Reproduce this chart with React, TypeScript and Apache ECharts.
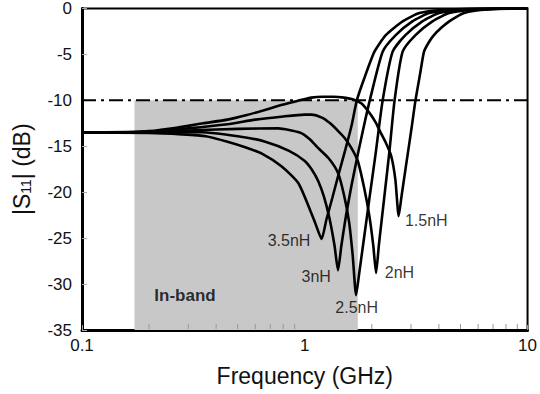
import React, { useEffect, useRef } from "react";
import * as echarts from "echarts";

// ---- data (frequency in GHz, |S11| in dB) ----
const f15 = [0.1, 0.15, 0.2, 0.27, 0.35, 0.45, 0.55, 0.65, 0.75, 0.85, 0.95, 1.07, 1.2, 1.35, 1.5, 1.65, 1.8, 1.97, 2.08, 2.18, 2.3, 2.44, 2.55, 2.64, 2.72, 2.8, 2.9, 3.02, 3.14, 3.3, 3.43, 3.6, 3.8, 4.1, 4.45, 4.8, 5.19, 5.8, 6.6, 8, 10];
const s15 = [-13.5, -13.5, -13.35, -12.95, -12.5, -12.1, -11.6, -11.1, -10.65, -10.3, -10.0, -9.7, -9.6, -9.6, -9.7, -9.9, -10.35, -11.5, -12.4, -13.4, -14.5, -16.0, -18.6, -22.6, -20.4, -18.3, -15.8, -12.9, -10.0, -7.0, -4.7, -3.7, -2.9, -2.1, -1.4, -0.9, -0.5, -0.25, -0.1, 0, 0];

const f20 = [0.1, 0.2, 0.3, 0.45, 0.6, 0.8, 1.0, 1.07, 1.2, 1.3, 1.42, 1.51, 1.62, 1.73, 1.85, 1.95, 2.03, 2.09, 2.15, 2.22, 2.3, 2.4, 2.53, 2.75, 3.14, 3.74, 4.45, 5.5, 7, 10];
const s20 = [-13.5, -13.4, -13.05, -12.6, -12.1, -11.75, -11.55, -11.55, -11.9, -12.5, -13.4, -14.1, -15.2, -16.6, -19.6, -22.6, -25.8, -28.8, -25.8, -22.8, -19.5, -15.5, -10.0, -4.7, -2.9, -1.4, -0.5, -0.15, -0.04, 0];

const f25 = [0.1, 0.2, 0.32, 0.5, 0.76, 0.95, 1.05, 1.15, 1.28, 1.41, 1.5, 1.58, 1.64, 1.7, 1.76, 1.84, 1.95, 2.08, 2.237, 2.48, 2.83, 3.37, 4.01, 5, 6.5, 10];
const s25 = [-13.5, -13.45, -13.25, -13.1, -13.05, -13.5, -14.2, -15.2, -16.3, -17.9, -20.3, -23.2, -26.8, -31.2, -28.6, -25.2, -20.7, -15.8, -10.0, -4.7, -2.9, -1.4, -0.5, -0.15, -0.04, 0];

const f30 = [0.1, 0.2, 0.32, 0.5, 0.665, 0.85, 1.0, 1.08, 1.15, 1.22, 1.29, 1.36, 1.41, 1.46, 1.53, 1.62, 1.74, 1.85, 1.958, 2.237, 2.56, 3.04, 3.62, 4.5, 6, 10];
const s30 = [-13.5, -13.5, -13.45, -13.9, -14.5, -15.5, -16.6, -17.6, -18.8, -20.5, -22.8, -25.8, -28.5, -25.8, -22.6, -19.3, -15.6, -12.6, -10.0, -4.7, -2.9, -1.4, -0.5, -0.15, -0.04, 0];

const f35 = [0.1, 0.2, 0.28, 0.36, 0.45, 0.54, 0.642, 0.788, 0.935, 1.055, 1.12, 1.19, 1.25, 1.33, 1.42, 1.52, 1.62, 1.713, 1.85, 2.055, 2.31, 2.75, 3.27, 4.2, 5.5, 10];
const s35 = [-13.5, -13.55, -13.7, -13.9, -14.5, -15.1, -15.8, -17.2, -19.0, -21.9, -23.5, -25.1, -23.0, -20.6, -18.0, -15.4, -12.8, -10.0, -7.6, -4.7, -2.9, -1.4, -0.5, -0.15, -0.04, 0];

const curveNames = ["1.5nH", "2nH", "2.5nH", "3nH", "3.5nH"];
const curveFreqs = [f15, f20, f25, f30, f35];
const curveDbs = [s15, s20, s25, s30, s35];

// curve labels (placed in data coordinates)
const labelTexts = ["1.5nH", "2nH", "2.5nH", "3nH", "3.5nH"];
const labelFreqs = [3.51, 2.66, 1.71, 1.125, 0.85];
const labelDbs = [-23.1, -28.7, -32.6, -29.2, -25.25];

// in-band region
const bandStart = 0.172;
const bandEnd = 1.73;
const bandTop = -10;
const bandText = "In-band";
const bandTextPos = [0.29, -31.2];

// reference line
const refLevel = -10;

// axis
const xMin = 0.1;
const xMax = 10;
const yMin = -35;
const yMax = 0;
const yStep = 5;
const minorTicks = [0.2, 0.3, 0.4, 0.5, 0.6, 0.7, 0.8, 0.9, 2, 3, 4, 5, 6, 7, 8, 9];

const FONT = "Liberation Sans, Arial, Helvetica, sans-serif";

export default function App() {
  const ref = useRef<HTMLDivElement>(null);

  useEffect(() => {
    if (!ref.current) return;
    const chart = echarts.init(ref.current, undefined, { renderer: "svg" });

    const curveSeries = curveNames.map((name, i) => ({
      name,
      type: "line",
      data: curveFreqs[i].map((f, j) => [f, curveDbs[i][j]]),
      showSymbol: false,
      symbol: "none",
      smooth: 0.2,
      lineStyle: { color: "#000", width: 2.6 },
      z: 3,
    }));

    const option: any = {
      animation: false,
      backgroundColor: "#fff",
      textStyle: { fontFamily: FONT },
      grid: {
        left: 82,
        right: 9,
        top: 7,
        bottom: 64,
        show: true,
        borderColor: "#000",
        borderWidth: 2,
        backgroundColor: "transparent",
      },
      xAxis: {
        type: "log",
        logBase: 10,
        min: xMin,
        max: xMax,
        name: "Frequency (GHz)",
        nameLocation: "middle",
        nameGap: 34,
        nameTextStyle: { fontSize: 23, color: "#111", fontFamily: FONT },
        axisLine: { show: true, onZero: false, lineStyle: { color: "#000", width: 3 } },
        axisTick: { show: true, inside: true, length: 5, lineStyle: { color: "#999", width: 1 } },
        axisLabel: {
          fontSize: 17,
          color: "#111",
          margin: 7,
          fontFamily: FONT,
          formatter: (v: number) => String(+Number(v).toPrecision(3)),
        },
        splitLine: { show: false },
        minorTick: { show: false },
      },
      yAxis: {
        type: "value",
        min: yMin,
        max: yMax,
        interval: yStep,
        name: "|S{sub|11}| (dB)",
        nameLocation: "middle",
        nameGap: 49,
        nameTextStyle: {
          fontSize: 23,
          color: "#111",
          fontFamily: FONT,
          rich: {
            sub: { fontSize: 14, fontFamily: FONT, color: "#111", verticalAlign: "bottom", lineHeight: 23, padding: [6, 0, 0, 0] },
          },
        },
        axisLine: { show: true, onZero: false, lineStyle: { color: "#000", width: 3 } },
        axisTick: { show: true, inside: true, length: 5, lineStyle: { color: "#aaa", width: 1 } },
        axisLabel: { fontSize: 17, color: "#111", margin: 10, fontFamily: FONT },
        splitLine: { show: false },
      },
      series: [
        {
          name: "band",
          type: "line",
          data: [],
          z: 1,
          markArea: {
            silent: true,
            itemStyle: { color: "#c8c8c8" },
            data: [[{ coord: [bandStart, bandTop] }, { coord: [bandEnd, yMin] }]],
          },
        },
        {
          name: "minorTicks",
          type: "custom",
          z: 2,
          silent: true,
          data: minorTicks.map((f) => [f, yMin]),
          renderItem: (params: any, api: any) => {
            const p = api.coord([api.value(0), api.value(1)]);
            return {
              type: "line",
              shape: { x1: p[0], y1: p[1] - 1, x2: p[0], y2: p[1] - 6 },
              style: { stroke: "#999", lineWidth: 1 },
            };
          },
        },
        ...curveSeries,
        {
          name: "ref",
          type: "line",
          data: [
            [xMin, refLevel],
            [xMax, refLevel],
          ],
          showSymbol: false,
          symbol: "none",
          lineStyle: { color: "#000", width: 2, type: [14, 5, 3, 5] },
          z: 4,
        },
        {
          name: "labels",
          type: "scatter",
          symbolSize: 0,
          z: 5,
          silent: true,
          data: labelTexts.map((t, i) => ({ value: [labelFreqs[i], labelDbs[i]], name: t })),
          label: {
            show: true,
            position: "inside",
            formatter: (p: any) => p.name,
            fontSize: 16,
            color: "#000",
            fontFamily: FONT,
          },
        },
        {
          name: "bandLabel",
          type: "scatter",
          symbolSize: 0,
          z: 5,
          silent: true,
          data: [{ value: bandTextPos, name: bandText }],
          label: {
            show: true,
            position: "inside",
            formatter: (p: any) => p.name,
            fontSize: 17,
            fontWeight: "bold",
            color: "#000",
            fontFamily: FONT,
          },
        },
      ],
    };

    chart.setOption(option);
    return () => chart.dispose();
  }, []);

  return (
    <div
      ref={ref}
      style={{ position: "fixed", left: 0, top: 0, width: 540, height: 394 }}
    />
  );
}
